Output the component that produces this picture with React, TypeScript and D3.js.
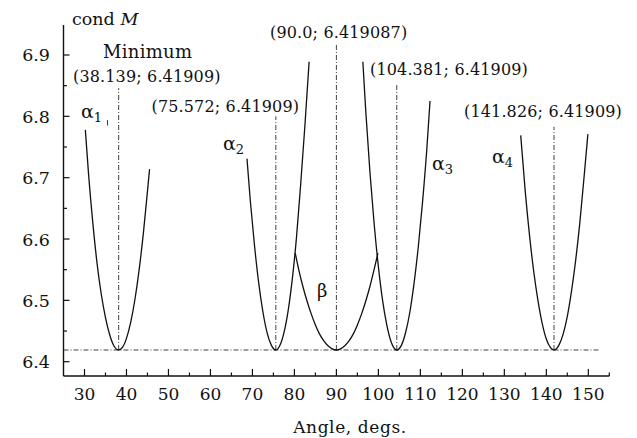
import React from "react";
import * as d3 from "d3";

// ---- data (angle in degrees, cond M) ----
const alpha1Angles = [30.2, 31, 32, 33, 34, 35, 36, 37, 38.139, 39, 40, 41, 42, 43, 44, 45, 45.5];
const alpha1Values = [6.778, 6.703, 6.625, 6.560, 6.510, 6.472, 6.444, 6.426, 6.41909, 6.423, 6.438, 6.464, 6.501, 6.549, 6.608, 6.678, 6.714];

const alpha2Angles = [68.7, 69.5, 70.5, 71.5, 72.5, 73.5, 74.5, 75.572, 76.5, 77.5, 78.5, 79.5, 80.5, 81.5, 82.5, 83.5];
const alpha2Values = [6.731, 6.662, 6.589, 6.528, 6.481, 6.447, 6.427, 6.41909, 6.426, 6.447, 6.483, 6.535, 6.603, 6.690, 6.785, 6.889];

const betaAngles = [80.2, 81, 82, 83, 84, 85, 86, 87, 88, 89, 90, 91, 92, 93, 94, 95, 96, 97, 98, 99, 99.9];
const betaValues = [6.577, 6.551, 6.523, 6.499, 6.478, 6.460, 6.445, 6.434, 6.426, 6.421, 6.419087, 6.421, 6.426, 6.434, 6.445, 6.460, 6.478, 6.499, 6.523, 6.551, 6.577];

const alpha3Angles = [96.3, 97, 98, 99, 100, 101, 102, 103, 104.381, 105.5, 106.5, 107.5, 108.5, 109.5, 110.5, 111.5, 112.3];
const alpha3Values = [6.889, 6.808, 6.708, 6.624, 6.555, 6.500, 6.460, 6.433, 6.41909, 6.427, 6.448, 6.481, 6.528, 6.587, 6.659, 6.743, 6.825];

const alpha4Angles = [133.9, 135, 136, 137, 138, 139, 140, 141, 141.826, 143, 144, 145, 146, 147, 148, 149, 149.9];
const alpha4Values = [6.769, 6.676, 6.606, 6.547, 6.500, 6.463, 6.437, 6.423, 6.41909, 6.427, 6.445, 6.474, 6.515, 6.566, 6.628, 6.702, 6.771];

// minima: angle, value, top of the guide line, label
const minAngles = [38.139, 75.572, 90.0, 104.381, 141.826];
const minValues = [6.41909, 6.41909, 6.419087, 6.41909, 6.41909];
const guideTops = [6.846, 6.80, 6.919, 6.851, 6.783];
const minLabels = ["(38.139; 6.41909)", "(75.572; 6.41909)", "(90.0; 6.419087)", "(104.381; 6.41909)", "(141.826; 6.41909)"];

const xMajorTicks = [30, 40, 50, 60, 70, 80, 90, 100, 110, 120, 130, 140, 150];
const xMinorTicks = [35, 45, 55, 65, 75, 85, 95, 105, 115, 125, 135, 145, 155];
const yMajorTicks = [6.4, 6.5, 6.6, 6.7, 6.8, 6.9];
const yMinorTicks = [6.45, 6.55, 6.65, 6.75, 6.85];

const minLineValue = 6.41909;
const minLineEnd = 152.5;

const W = 637;
const H = 438;
const FONT = "'DejaVu Serif', serif";

export default function App() {
  const x = d3.scaleLinear().domain([25, 155]).range([63.5, 609.3]);
  const y = d3.scaleLinear().domain([6.37669, 6.9489]).range([376, 25]);

  const line = d3
    .line<[number, number]>()
    .x((d) => x(d[0]))
    .y((d) => y(d[1]))
    .curve(d3.curveMonotoneX);

  const series = [
    [alpha1Angles, alpha1Values],
    [alpha2Angles, alpha2Values],
    [betaAngles, betaValues],
    [alpha3Angles, alpha3Values],
    [alpha4Angles, alpha4Values],
  ].map(([a, v]) => a.map((ang, i) => [ang, v[i]] as [number, number]));

  const labelPos: [number, number][] = [
    [73, 82],
    [151.5, 112],
    [270, 38],
    [370, 75],
    [464, 117],
  ];

  const dash = "5 2 1 2";
  const x0 = x.range()[0];
  const yB = y.range()[0];

  return (
    <svg
      width={W}
      height={H}
      style={{ position: "absolute", left: 0, top: 0, background: "#fff" }}
      fontFamily={FONT}
    >
      <rect width={W} height={H} fill="#fff" />
      {/* axes */}
      <line x1={x0} x2={x0} y1={y.range()[1]} y2={yB} stroke="#111" strokeWidth={1.4} />
      <line x1={x0} x2={x.range()[1]} y1={yB} y2={yB} stroke="#111" strokeWidth={1.4} />
      {yMajorTicks.map((t) => (
        <g key={"ym" + t}>
          <line x1={x0} x2={x0 + 6} y1={y(t)} y2={y(t)} stroke="#111" strokeWidth={1.2} />
          <text x={50} y={y(t) + 6.5} textAnchor="end" fontSize={17.5} fill="#111">
            {t.toFixed(1)}
          </text>
        </g>
      ))}
      {yMinorTicks.map((t) => (
        <line key={"yn" + t} x1={x0} x2={x0 + 3.5} y1={y(t)} y2={y(t)} stroke="#111" strokeWidth={1.2} />
      ))}
      {xMajorTicks.map((t) => (
        <g key={"xm" + t}>
          <line x1={x(t)} x2={x(t)} y1={yB} y2={yB - 7} stroke="#111" strokeWidth={1.2} />
          <text x={x(t)} y={400} textAnchor="middle" fontSize={17} fill="#111">
            {t}
          </text>
        </g>
      ))}
      {xMinorTicks.map((t) => (
        <line key={"xn" + t} x1={x(t)} x2={x(t)} y1={yB} y2={yB - 3.5} stroke="#111" strokeWidth={1.2} />
      ))}

      {/* guide lines */}
      <line
        x1={x0}
        x2={x(minLineEnd)}
        y1={y(minLineValue)}
        y2={y(minLineValue)}
        stroke="#111"
        strokeWidth={0.8}
        strokeDasharray={dash}
      />
      {minAngles.map((a, i) => (
        <line
          key={"g" + i}
          x1={x(a)}
          x2={x(a)}
          y1={y(minValues[i])}
          y2={y(guideTops[i])}
          stroke="#111"
          strokeWidth={0.8}
          strokeDasharray={dash}
        />
      ))}

      {/* curves */}
      {series.map((s, i) => (
        <path key={"c" + i} d={line(s) || ""} fill="none" stroke="#111" strokeWidth={1.3} />
      ))}

      {/* annotations */}
      {minLabels.map((l, i) => (
        <text key={"l" + i} x={labelPos[i][0]} y={labelPos[i][1]} fontSize={16} letterSpacing={0.15} fill="#111">
          {l}
        </text>
      ))}
      <text x={103} y={58} fontSize={18} letterSpacing={0.3} fill="#111">
        Minimum
      </text>
      <text x={72} y={25} fontSize={17.5} fill="#111">
        cond <tspan fontStyle="italic">M</tspan>
      </text>

      <text x={81} y={118} fontSize={19} fill="#111">
        α<tspan fontSize={13} dy={4}>1</tspan>
      </text>
      <line x1={107.5} x2={107.5} y1={120} y2={125.5} stroke="#111" strokeWidth={0.8} />
      <text x={223} y={150} fontSize={19} fill="#111">
        α<tspan fontSize={13} dy={4}>2</tspan>
      </text>
      <text x={317} y={297} fontSize={18} fill="#111">
        β
      </text>
      <text x={432} y={170} fontSize={19} fill="#111">
        α<tspan fontSize={13} dy={4}>3</tspan>
      </text>
      <text x={492} y={163} fontSize={19} fill="#111">
        α<tspan fontSize={13} dy={4}>4</tspan>
      </text>

      <text x={350} y={433} textAnchor="middle" fontSize={17} letterSpacing={0.6} fill="#111">
        Angle, degs.
      </text>
    </svg>
  );
}
